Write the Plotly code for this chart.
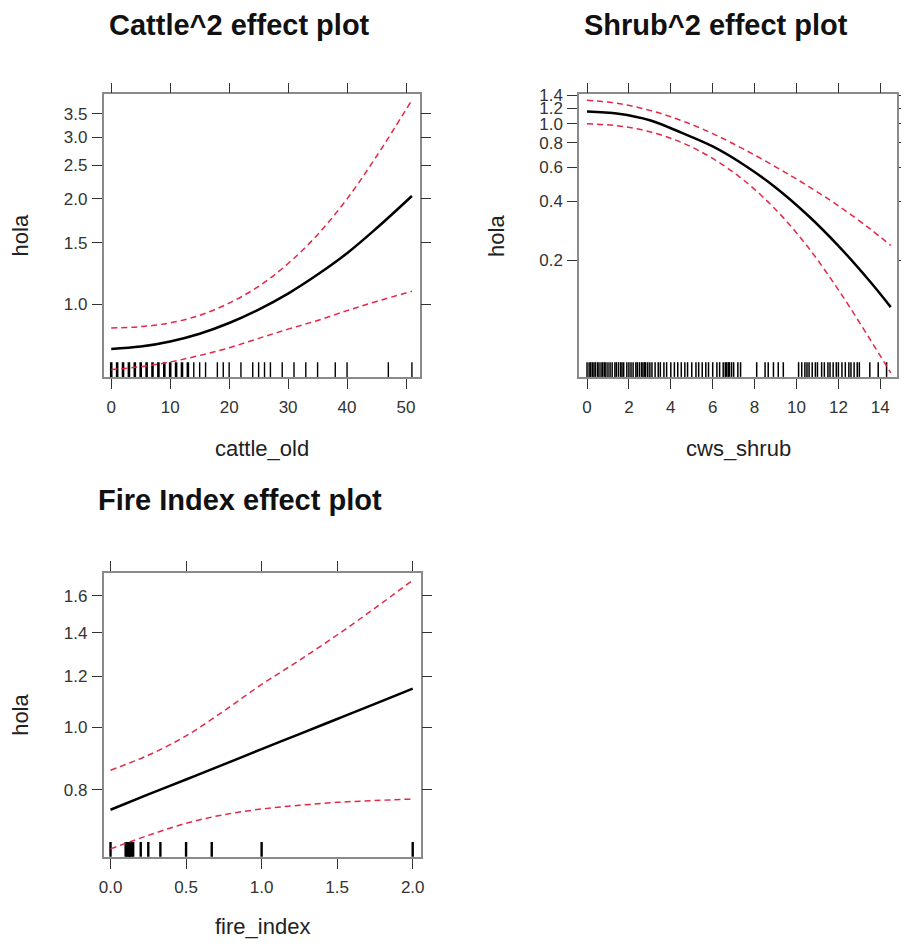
import plotly.graph_objects as go
import math

# ---------------- data ----------------
cattle_x = [0, 5, 10, 15, 20, 25, 30, 35, 40, 45, 51]
cattle_fit = [0.746, 0.758, 0.784, 0.825, 0.885, 0.967, 1.074, 1.217, 1.40, 1.65, 2.04]
cattle_upper = [0.857, 0.864, 0.886, 0.931, 1.009, 1.126, 1.309, 1.582, 2.002, 2.649, 3.834]
cattle_lower = [0.652, 0.664, 0.685, 0.715, 0.752, 0.80, 0.85, 0.90, 0.96, 1.02, 1.09]
cattle_rug_dense = [0, 1, 2, 3, 4, 5, 6, 7, 8, 9, 10, 11, 12, 13]
cattle_rug_sparse = [14, 15, 16, 18, 19, 20, 22, 24, 25, 26, 27, 29, 31, 33, 35, 38, 40, 47, 51]

shrub_x = [0, 1.5, 3, 4.5, 6, 7.5, 9, 10.5, 12, 13.5, 14.5]
shrub_fit = [1.156, 1.125, 1.042, 0.90, 0.765, 0.615, 0.472, 0.343, 0.237, 0.156, 0.115]
shrub_upper = [1.32, 1.269, 1.171, 1.039, 0.89, 0.739, 0.602, 0.483, 0.380, 0.290, 0.238]
shrub_lower = [1.0, 0.975, 0.909, 0.803, 0.664, 0.512, 0.364, 0.237, 0.141, 0.079, 0.053]
shrub_rug = [0, 0.1, 0.17, 0.25, 0.33, 0.4, 0.5, 0.57, 0.67, 0.75, 0.83, 0.9, 1.0, 1.1, 1.2,
             1.33, 1.4, 1.5, 1.6, 1.67, 1.75, 1.9, 2.0, 2.1, 2.2, 2.33, 2.4, 2.5, 2.6, 2.67,
             2.75, 2.8, 2.9, 3.0, 3.1, 3.25, 3.4, 3.5, 3.67, 3.8, 4.0, 4.17, 4.33, 4.5, 4.67,
             4.8, 5.0, 5.2, 5.33, 5.5, 5.67, 5.8, 6.0, 6.2, 6.33, 6.5, 6.6, 6.67, 6.75, 6.8,
             6.9, 7.0, 7.2, 7.33,
             8.1, 8.5, 8.65, 8.9, 9.13, 9.37,
             10.1, 10.25, 10.4, 10.5, 10.6, 10.75, 10.9, 11.0, 11.2, 11.33, 11.5, 11.6,
             11.75, 11.9, 12.0, 12.17, 12.33, 12.5, 12.6, 12.75, 12.9, 13.0,
             13.5, 13.9, 14.3]

fire_x = [0, 0.25, 0.5, 0.75, 1.0, 1.25, 1.5, 1.75, 2.0]
fire_fit = [0.745, 0.787, 0.830, 0.876, 0.925, 0.976, 1.030, 1.087, 1.148]
fire_upper = [0.858, 0.905, 0.97, 1.06, 1.165, 1.27, 1.39, 1.53, 1.69]
fire_lower = [0.648, 0.68, 0.71, 0.732, 0.747, 0.757, 0.765, 0.77, 0.774]
fire_rug = [0, 0.1, 0.11, 0.12, 0.125, 0.13, 0.14, 0.15, 0.2, 0.25, 0.33, 0.5, 0.67, 1.0, 2.0]

cattle_yticks = [1.0, 1.5, 2.0, 2.5, 3.0, 3.5]
shrub_yticks = [0.2, 0.4, 0.6, 0.8, 1.0, 1.2, 1.4]
fire_yticks = [0.8, 1.0, 1.2, 1.4, 1.6]
cattle_xticks = [0, 10, 20, 30, 40, 50]
shrub_xticks = [0, 2, 4, 6, 8, 10, 12, 14]
fire_xticks = [0, 0.5, 1.0, 1.5, 2.0]
fire_xticktext = ["0.0", "0.5", "1.0", "1.5", "2.0"]

titles = ["Cattle^2 effect plot", "Shrub^2 effect plot", "Fire Index effect plot"]
xlabels = ["cattle_old", "cws_shrub", "fire_index"]
ylabel = "hola"

# ---------------- figure ----------------
OX, OY = 8, 10            # page offset of the plot div
FW, FH = 901, 936         # figure size
FONT = "Liberation Sans, Arial, Helvetica, sans-serif"
RED = "rgb(228,40,70)"


def fx(px):
    return min(1.0, max(0.0, (px - OX) / FW))


def fy(py):
    return min(1.0, max(0.0, 1 - (py - OY) / FH))


panels = [
    dict(x=cattle_x, fit=cattle_fit, up=cattle_upper, lo=cattle_lower,
         rugs=[(cattle_rug_dense, 2.6), (cattle_rug_sparse, 1.4)],
         px=(100, 421), py=(89, 374), xr=[-1.3, 52.3], yr=[0.621, 3.98],
         xt=cattle_xticks, xtt=[str(v) for v in cattle_xticks], yt=cattle_yticks),
    dict(x=shrub_x, fit=shrub_fit, up=shrub_upper, lo=shrub_lower,
         rugs=[(shrub_rug, 1.5)],
         px=(583, 906), py=(89, 374), xr=[-0.38, 14.8], yr=[0.0505, 1.415],
         xt=shrub_xticks, xtt=[str(v) for v in shrub_xticks], yt=shrub_yticks),
    dict(x=fire_x, fit=fire_fit, up=fire_upper, lo=fire_lower,
         rugs=[(fire_rug, 2.4)],
         px=(100, 422), py=(572, 858), xr=[-0.046, 2.052], yr=[0.630, 1.733],
         xt=fire_xticks, xtt=fire_xticktext, yt=fire_yticks),
]
title_gap = [70, 70, 74]
xlabel_gap = [72, 72, 70]

fig = go.Figure()
layout = dict(width=FW, height=FH, margin=dict(l=0, r=0, t=0, b=0),
              paper_bgcolor="white", plot_bgcolor="white", showlegend=False,
              font=dict(family=FONT, color="#222"))
shapes = []
annotations = []

for i, p in enumerate(panels):
    n = i + 1
    xa = "x" if n == 1 else f"x{n}"
    ya = "y" if n == 1 else f"y{n}"
    xkey = "xaxis" if n == 1 else f"xaxis{n}"
    ykey = "yaxis" if n == 1 else f"yaxis{n}"
    dom_x = [fx(p["px"][0]), fx(p["px"][1])]
    dom_y = [fy(p["py"][1]), fy(p["py"][0])]

    common = dict(showline=True, linecolor="#8a8a8a", linewidth=1.6, mirror="ticks",
                  ticks="outside", ticklen=10, tickwidth=1.2, tickcolor="#333",
                  showgrid=False, zeroline=False,
                  tickfont=dict(family=FONT, size=17, color="#333"))
    layout[xkey] = dict(domain=dom_x, anchor=ya, range=p["xr"], tickvals=p["xt"],
                        ticktext=p["xtt"], ticklabelstandoff=4, **common)
    layout[ykey] = dict(domain=dom_y, anchor=xa, type="log",
                        range=[math.log10(p["yr"][0]), math.log10(p["yr"][1])],
                        tickvals=p["yt"], ticktext=[f"{v:.1f}" for v in p["yt"]],
                        ticklabelstandoff=1, **common)

    for vals, w in p["rugs"]:
        for v in vals:
            shapes.append(dict(type="line", xref=xa, yref=f"{ya} domain", x0=v, x1=v,
                               y0=0, y1=0.052, line=dict(color="black", width=w),
                               layer="below"))

    for arr in (p["up"], p["lo"]):
        fig.add_trace(go.Scatter(x=p["x"], y=arr, mode="lines", xaxis=xa, yaxis=ya,
                                 line=dict(color=RED, width=1.5, dash="6px,4px", shape="spline"),
                                 hoverinfo="skip"))
    fig.add_trace(go.Scatter(x=p["x"], y=p["fit"], mode="lines", xaxis=xa, yaxis=ya,
                             line=dict(color="black", width=2.5, shape="spline"),
                             hoverinfo="skip"))

    cx = (p["px"][0] + p["px"][1]) / 2
    cy = (p["py"][0] + p["py"][1]) / 2
    # title
    annotations.append(dict(text=f"<b>{titles[i]}</b>", x=fx(cx - 22), y=fy(p["py"][0] - title_gap[i]),
                            xref="paper", yref="paper", showarrow=False,
                            xanchor="center", yanchor="middle",
                            font=dict(family=FONT, size=29, color="#111")))
    # x label
    annotations.append(dict(text=xlabels[i], x=fx(cx), y=fy(p["py"][1] + xlabel_gap[i]),
                            xref="paper", yref="paper", showarrow=False,
                            xanchor="center", yanchor="middle",
                            font=dict(family=FONT, size=22, color="#222")))
    # y label
    annotations.append(dict(text=ylabel, x=fx(p["px"][0] - 84), y=fy(cy),
                            xref="paper", yref="paper", showarrow=False, textangle=-90,
                            xanchor="center", yanchor="middle",
                            font=dict(family=FONT, size=22, color="#222")))

layout["shapes"] = shapes
layout["annotations"] = annotations
fig.update_layout(**layout)
fig.write_html("out.html")
